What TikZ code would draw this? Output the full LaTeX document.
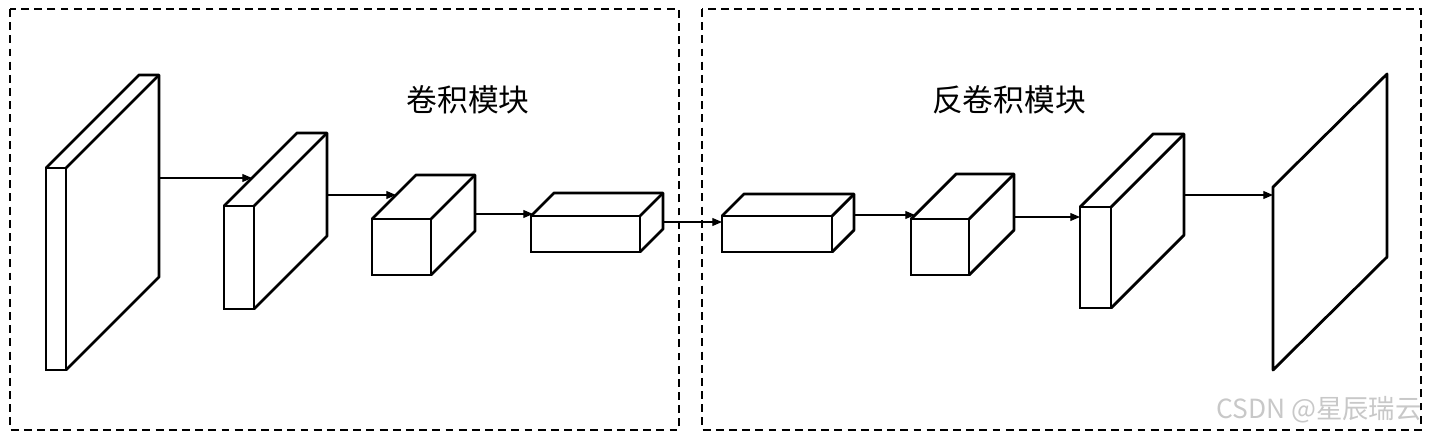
\documentclass[tikz,border=0pt]{standalone}
\usepackage{fontspec}
\usepackage{tikz}
\usetikzlibrary{arrows.meta,calc,intersections}
\newfontfamily\cjk{Noto Sans CJK SC}
\definecolor{grisMarque}{RGB}{200,200,200}

\begin{document}
\begin{tikzpicture}[x=0.02cm,y=-0.02cm,
  face/.style={rectangle,draw,line width=1.6pt,inner sep=0pt,outer sep=0pt},
  arete/.style={line width=1.6pt,line join=round},
  arr/.style={-{Triangle[length=5.5pt,width=4.5pt]},line width=0.7pt},
  zone/.style={draw,line width=1.5pt,dash pattern=on 4.5pt off 3pt},
  titre/.style={font=\cjk\fontsize{17.5}{20}\selectfont}]

  \useasboundingbox (0,0) rectangle (1430,436);

  % module boxes
  \draw[zone] (10,9) rectangle (679,430);
  \draw[zone] (702,9) rectangle (1421,430);
  \node[titre] (T1) at (468,100) {卷积模块};
  \node[titre] (T2) at (1009,100) {反卷积模块};

  % feature maps: name / x / y / width / height / depth
  \foreach \n/\x/\y/\w/\h/\d in {c1/46/168/20/202/93, c2/224/206/30/103/73,
      c3/372/219/59/56/44, c4/531/216/109/36/23, c5/722/216/110/36/22,
      c6/911/219/58/56/45, c7/1080/207/31/101/73}{
    \node[face,minimum width=\w*0.02cm,minimum height=\h*0.02cm] (\n)
      at ({\x+\w/2},{\y+\h/2}) {};
    \coordinate (\n-tl) at ($(\n.north west)+(\d,-\d)$);
    \coordinate (\n-br) at ($(\n.north east)+(\d,-\d)$);
    \draw[arete] (\n.north west) -- (\n-tl) -- (\n-br) -- ++(0,\h) -- (\n.south east);
    \draw[arete] (\n.north east) -- (\n-br);
    \path[name path global=\n-lft] (\n.south west) -- (\n.north west) -- (\n-tl);
  }

  % output map
  \coordinate (out) at (1273,187);
  \coordinate (out-tr) at (1387,74);
  \draw[arete] (out) -- ++(0,183) -- ++(114,-113) -- (out-tr) -- cycle;
  \path[name path global=out-lft] (out) -- ++(0,183);

  % arrows
  \foreach \a/\b/\y in {c1/c2/178, c2/c3/195, c3/c4/214, c4/c5/222,
      c5/c6/215, c6/c7/217, c7/out/195}{
    \path[name path=ray] (\a-br |- 0,\y) -- ++(300,0);
    \draw[arr,name intersections={of=ray and \b-lft}] (\a-br |- 0,\y) -- (intersection-1);
  }

  \node[font=\cjk\fontsize{15}{17}\selectfont,text=grisMarque,anchor=east,inner sep=0pt]
    (marque) at (1422,410) {CSDN @星辰瑞云};
\end{tikzpicture}
\end{document}
